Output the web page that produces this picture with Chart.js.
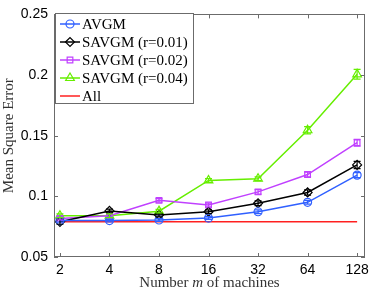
<!DOCTYPE html>
<html>
<head>
<meta charset="utf-8">
<script src="https://cdn.jsdelivr.net/npm/chart.js@4/dist/chart.umd.min.js"></script>
<style>
  html, body { margin: 0; padding: 0; background: #fff; }
  #wrap { width: 374px; height: 290px; }
</style>
</head>
<body>
<div id="wrap"><canvas id="mseChart" width="374" height="290"></canvas></div>
<script>
// data
const machines = [2, 4, 8, 16, 32, 64, 128];
const avgm   = [0.0800, 0.0800, 0.0805, 0.0821, 0.0873, 0.0951, 0.1175];
const savgm1 = [0.0790, 0.0880, 0.0846, 0.0873, 0.0943, 0.1032, 0.1259];
const savgm2 = [0.0818, 0.0840, 0.0967, 0.0929, 0.1037, 0.1180, 0.1442];
const savgm4 = [0.0840, 0.0840, 0.0878, 0.1131, 0.1145, 0.1545, 0.2006];
const allData = [0.0790, 0.0790, 0.0790, 0.0790, 0.0790, 0.0790, 0.0790];
// error bar half widths
const errAvgm   = [0.0012, 0.0010, 0.0012, 0.0012, 0.0015, 0.0015, 0.0020];
const errSavgm1 = [0.0020, 0.0015, 0.0015, 0.0015, 0.0020, 0.0022, 0.0030];
const errSavgm2 = [0.0012, 0.0012, 0.0015, 0.0015, 0.0018, 0.0020, 0.0028];
const errSavgm4 = [0.0015, 0.0015, 0.0015, 0.0015, 0.0015, 0.0030, 0.0040];
const yTicks = [0.05, 0.1, 0.15, 0.2, 0.25];

const serif = '"Liberation Serif", "Times New Roman", serif';
const sans = '"Liberation Sans", Arial, sans-serif';
const axisColor = '#6b6b6b';

function pts(vals) {
    return vals.map((v, i) => ({ x: Math.log2(machines[i]), y: v }));
}

function series(label, vals, color, style, radius, errs) {
    return {
        label: label,
        data: pts(vals),
        borderColor: color,
        backgroundColor: 'rgba(0,0,0,0)',
        borderWidth: 1.5,
        pointStyle: style,
        pointRadius: radius,
        pointBorderWidth: 1.2,
        pointBorderColor: color,
        pointBackgroundColor: 'rgba(0,0,0,0)',
        errors: errs,
        tension: 0
    };
}

// error bars, box, inner ticks, legend and x title
const matlabLook = {
    id: 'matlabLook',
    afterDatasetsDraw(chart) {
        const c = chart.ctx;
        const xs = chart.scales.x, ys = chart.scales.y;
        chart.data.datasets.forEach(ds => {
            if (!ds.errors) return;
            c.save();
            c.strokeStyle = ds.borderColor;
            c.lineWidth = 1.2;
            ds.data.forEach((p, i) => {
                const px = xs.getPixelForValue(p.x);
                const top = ys.getPixelForValue(p.y + ds.errors[i]);
                const bot = ys.getPixelForValue(p.y - ds.errors[i]);
                c.beginPath();
                c.moveTo(px, top); c.lineTo(px, bot);
                c.moveTo(px - 3.5, top); c.lineTo(px + 3.5, top);
                c.moveTo(px - 3.5, bot); c.lineTo(px + 3.5, bot);
                c.stroke();
            });
            c.restore();
        });
    },
    afterDraw(chart) {
        const c = chart.ctx;
        const a = chart.chartArea;
        const xs = chart.scales.x, ys = chart.scales.y;
        c.save();
        // axes box
        c.strokeStyle = axisColor;
        c.lineWidth = 1;
        c.strokeRect(Math.round(a.left) + 0.5, Math.round(a.top) + 0.5,
            Math.round(a.right - a.left) - 1, Math.round(a.bottom - a.top) - 1);
        // inward ticks on all sides
        c.beginPath();
        machines.forEach(m => {
            const px = Math.round(xs.getPixelForValue(Math.log2(m))) + 0.5;
            c.moveTo(px, a.bottom); c.lineTo(px, a.bottom - 4);
            c.moveTo(px, a.top); c.lineTo(px, a.top + 4);
        });
        yTicks.forEach(v => {
            const py = Math.round(ys.getPixelForValue(v)) + 0.5;
            c.moveTo(a.left, py); c.lineTo(a.left + 4, py);
            c.moveTo(a.right, py); c.lineTo(a.right - 4, py);
        });
        c.stroke();

        // legend
        const lx = 55.5, ly = 13.5, lw = 138, lh = 90;
        c.fillStyle = '#fff';
        c.fillRect(lx, ly, lw, lh);
        c.strokeStyle = axisColor;
        c.strokeRect(lx, ly, lw, lh);
        c.font = '15px ' + serif;
        c.textBaseline = 'middle';
        c.textAlign = 'left';
        chart.data.datasets.forEach((ds, i) => {
            const ry = 24 + i * 18;
            c.strokeStyle = ds.borderColor;
            c.lineWidth = 1.5;
            c.beginPath();
            c.moveTo(60, ry); c.lineTo(80, ry);
            c.stroke();
            if (ds.pointRadius > 0) {
                c.lineWidth = 1.2;
                c.fillStyle = 'rgba(0,0,0,0)';
                Chart.helpers.drawPoint(c, {
                    pointStyle: ds.pointStyle, radius: ds.pointRadius,
                    rotation: 0, borderWidth: 1.2
                }, 70, ry);
            }
            c.fillStyle = '#000';
            c.fillText(ds.label, 82, ry + 1);
        });

        // x title with italic m
        const parts = [['Number ', '15px ' + serif], ['m', 'italic 15px ' + serif], [' of machines', '15px ' + serif]];
        let total = 0;
        parts.forEach(p => { c.font = p[1]; total += c.measureText(p[0]).width; });
        let x = (a.left + a.right) / 2 - total / 2;
        c.fillStyle = '#333';
        parts.forEach(p => {
            c.font = p[1];
            c.fillText(p[0], x, 283);
            x += c.measureText(p[0]).width;
        });
        c.restore();
    }
};

const ctx = document.getElementById('mseChart').getContext('2d');

const mseChart = new Chart(ctx, {
    type: 'line',
    data: {
        datasets: [
            series('AVGM', avgm, '#3060ff', 'circle', 4, errAvgm),
            series('SAVGM (r=0.01)', savgm1, '#000000', 'rectRot', 4.5, errSavgm1),
            series('SAVGM (r=0.02)', savgm2, '#c040ff', 'rect', 4, errSavgm2),
            series('SAVGM (r=0.04)', savgm4, '#66ee00', 'triangle', 5, errSavgm4),
            series('All', allData, '#ff2020', 'circle', 0, null)
        ]
    },
    options: {
        responsive: false,
        animation: false,
        devicePixelRatio: 1,
        layout: { padding: { left: 0, top: 10, right: 8, bottom: 0 } },
        plugins: {
            legend: { display: false },
            tooltip: { enabled: false }
        },
        scales: {
            x: {
                type: 'linear',
                min: 0.88,
                max: 7.16,
                grid: { display: false, drawTicks: false },
                border: { display: false },
                afterBuildTicks: s => { s.ticks = machines.map(m => ({ value: Math.log2(m) })); },
                afterFit: s => { s.height = 33; },
                ticks: {
                    padding: 5,
                    color: '#000',
                    font: { family: sans, size: 14 },
                    callback: v => String(Math.round(Math.pow(2, v)))
                }
            },
            y: {
                min: 0.05,
                max: 0.25,
                grid: { display: false, drawTicks: false },
                border: { display: false },
                afterBuildTicks: s => { s.ticks = yTicks.map(v => ({ value: v })); },
                afterFit: s => { s.width = 54; },
                title: {
                    display: true,
                    text: 'Mean Square Error',
                    color: '#333',
                    font: { family: serif, size: 15 },
                    padding: { top: 0, bottom: 0 }
                },
                ticks: {
                    padding: 6,
                    color: '#000',
                    font: { family: sans, size: 14 },
                    callback: v => String(Math.round(v * 100) / 100)
                }
            }
        }
    },
    plugins: [matlabLook]
});
</script>
</body>
</html>
